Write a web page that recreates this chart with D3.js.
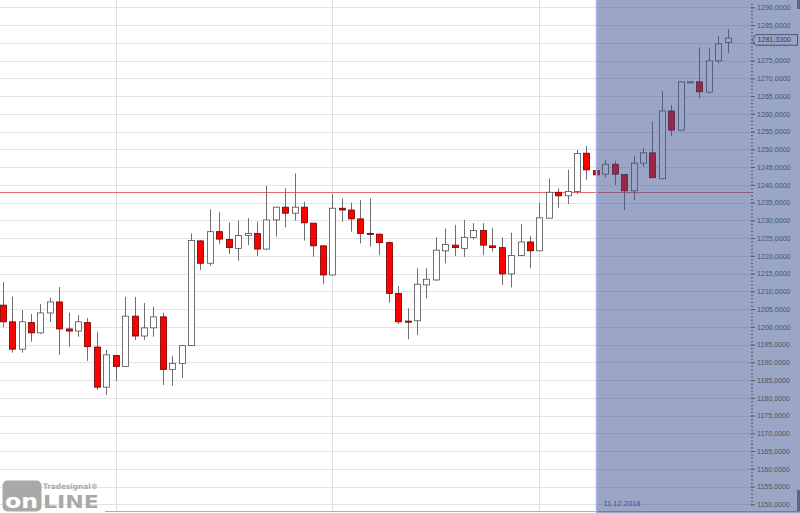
<!DOCTYPE html>
<html>
<head>
<meta charset="utf-8">
<script src="https://cdn.jsdelivr.net/npm/d3@7"></script>
<style>
  body { margin: 0; background: #fff; }
  svg { display: block; font-family: "Liberation Sans", Arial, sans-serif; }
</style>
</head>
<body>
<svg id="chart" width="800" height="513"></svg>
<script>
// daily OHLC, 13.09.2018 .. 21.12.2018
var opens  = [1206.1,1201.4,1193.7,1201.2,1198.3,1203.9,1207.0,1199.4,1198.8,1201.2,
              1194.3,1183.0,1191.9,1188.8,1203.0,1197.4,1199.7,1202.8,1188.0,1189.7,
              1194.7,1224.2,1217.9,1226.8,1224.6,1222.1,1225.7,1226.3,1221.9,1230.1,
              1233.7,1232.0,1233.7,1229.2,1222.8,1214.6,1233.4,1232.9,1230.4,1226.3,
              1226.1,1223.7,1209.4,1201.6,1201.7,1211.8,1213.2,1221.4,1223.0,1222.1,
              1225.2,1227.1,1222.8,1222.3,1214.9,1220.1,1223.9,1221.4,1230.6,1237.9,
              1236.9,1238.1,1248.9,1244.0,1243.0,1245.8,1242.9,1238.3,1246.1,1249.0,
              1241.7,1260.8,1255.4,1269.0,1269.0,1266.1,1274.9,1280.1];
var highs  = [1212.6,1208.5,1204.7,1203.6,1206.4,1208.2,1211.2,1204.0,1203.3,1202.5,
              1198.6,1193.5,1192.1,1208.4,1208.4,1206.7,1205.7,1204.0,1191.8,1194.9,
              1226.3,1224.4,1233.1,1232.3,1229.4,1229.9,1230.6,1229.6,1239.7,1233.8,
              1239.0,1243.2,1235.2,1229.3,1222.9,1237.4,1236.2,1235.0,1235.7,1236.2,
              1226.3,1224.0,1211.5,1205.2,1216.5,1216.5,1225.2,1227.7,1228.7,1230.1,
              1229.2,1229.2,1227.9,1225.2,1226.5,1229.0,1225.6,1235.0,1241.8,1239.0,
              1244.2,1249.8,1250.9,1244.0,1247.0,1246.8,1243.0,1248.1,1250.3,1257.8,
              1266.4,1262.5,1269.1,1269.0,1278.7,1278.7,1281.9,1283.8];
var lows   = [1199.9,1192.7,1192.7,1195.8,1198.0,1201.4,1192.1,1194.4,1197.2,1190.4,
              1182.2,1180.8,1184.7,1188.8,1196.3,1196.3,1197.2,1183.6,1183.4,1185.6,
              1194.6,1216.0,1217.2,1223.3,1220.5,1218.6,1223.0,1220.0,1221.6,1225.4,
              1228.0,1229.9,1224.3,1219.7,1212.0,1214.5,1229.6,1226.8,1223.5,1222.6,
              1220.2,1206.8,1200.8,1196.5,1197.7,1208.0,1213.0,1217.9,1219.9,1219.7,
              1224.6,1220.2,1221.2,1211.8,1211.1,1219.9,1216.5,1221.3,1230.5,1233.4,
              1234.6,1237.4,1241.4,1242.7,1242.1,1239.9,1232.9,1235.7,1245.1,1241.9,
              1241.6,1253.7,1255.3,1269.0,1264.4,1265.8,1274.2,1277.2];
var closes = [1201.4,1193.7,1201.4,1198.3,1203.9,1207.0,1199.4,1198.8,1201.4,1194.4,
              1183.0,1192.1,1188.8,1203.0,1197.4,1199.7,1202.8,1188.0,1189.7,1194.7,
              1224.3,1217.9,1226.8,1224.7,1222.3,1225.7,1226.3,1221.9,1230.1,1233.7,
              1232.0,1233.7,1229.3,1222.8,1214.6,1233.4,1232.9,1230.4,1226.3,1226.1,
              1223.7,1209.4,1201.4,1201.3,1212.0,1213.4,1221.6,1223.2,1222.3,1225.2,
              1227.1,1223.0,1222.3,1214.9,1220.1,1223.9,1221.4,1230.7,1237.9,1236.9,
              1238.1,1248.8,1244.2,1242.8,1245.8,1243.0,1238.3,1246.1,1249.0,1242.0,
              1260.8,1255.4,1269.0,1269.0,1266.2,1274.9,1279.7,1281.33];

var monthStarts = [12, 35, 57];     // 01.10., 01.11., 03.12.
var markIndex = 63;
var markLabel = "11.12.2018";
var refLevel = 1238.0;
var lastPrice = 1281.33;
var yTicks = d3.range(1150, 1291, 5);
var yMinor = d3.range(1150, 1292, 1);

var svg = d3.select("#chart");
var W = 800, H = 513, axisX = 751;

var x = d3.scaleLinear().domain([0, opens.length - 1]).range([2.7, 727.7]);
var y = d3.scaleLinear().domain([1150, 1290]).range([504.3, 7.3]);

var fmt = d3.formatLocale({decimal: ",", thousands: ".", grouping: [3], currency: ["", ""]}).format(".4f");

var candles = opens.map(function(o, i) {
  return {i: i, o: o, h: highs[i], l: lows[i], c: closes[i]};
});

// grid
svg.append("g").selectAll("line")
  .data(yTicks)
  .join("line")
    .attr("x1", 0).attr("x2", axisX)
    .attr("y1", function(d) { return Math.round(y(d)) + 0.5; })
    .attr("y2", function(d) { return Math.round(y(d)) + 0.5; })
    .attr("stroke", "#e3e3e3");

svg.append("g").selectAll("line")
  .data(monthStarts)
  .join("line")
    .attr("x1", function(d) { return Math.round(x(d)) + 0.5; })
    .attr("x2", function(d) { return Math.round(x(d)) + 0.5; })
    .attr("y1", 0).attr("y2", 511)
    .attr("stroke", "#e0e0e0");

// reference level
svg.append("line")
  .attr("x1", 0).attr("x2", axisX)
  .attr("y1", Math.round(y(refLevel)) + 0.5).attr("y2", Math.round(y(refLevel)) + 0.5)
  .attr("stroke", "#e86a6a");

// bottom border
svg.append("line")
  .attr("x1", 105).attr("x2", W)
  .attr("y1", 511.5).attr("y2", 511.5)
  .attr("stroke", "#c4a4a4");

// candles
var cg = svg.append("g");
cg.selectAll("line.wick")
  .data(candles)
  .join("line")
    .attr("class", "wick")
    .attr("x1", function(d) { return Math.round(x(d.i)) + 0.5; })
    .attr("x2", function(d) { return Math.round(x(d.i)) + 0.5; })
    .attr("y1", function(d) { return y(d.h); })
    .attr("y2", function(d) { return y(d.l); })
    .attr("stroke", "#6e6e6e");

cg.selectAll("rect.body")
  .data(candles)
  .join("rect")
    .attr("class", "body")
    .attr("x", function(d) { return Math.round(x(d.i)) - 2.5; })
    .attr("width", 6)
    .attr("y", function(d) { return y(Math.max(d.o, d.c)); })
    .attr("height", function(d) { return Math.max(1, y(Math.min(d.o, d.c)) - y(Math.max(d.o, d.c))); })
    .attr("fill", function(d) { return d.c >= d.o ? "#ffffff" : "#ff0000"; })
    .attr("stroke", function(d) { return d.c >= d.o ? "#505050" : "#6a0000"; })
    .attr("stroke-width", 0.8);

// highlighted period
var mx = Math.round(x(markIndex)) + 0.5;
svg.append("rect")
  .attr("x", mx).attr("y", 0)
  .attr("width", W - mx).attr("height", H)
  .attr("fill", "rgb(56,78,142)")
  .attr("fill-opacity", 0.5);
svg.append("line")
  .attr("x1", mx).attr("x2", mx)
  .attr("y1", 0).attr("y2", H)
  .attr("stroke", "#aaaef2")
  .attr("stroke-width", 1.5);
svg.append("text")
  .attr("x", mx + 7).attr("y", 506)
  .attr("font-size", "7.5px")
  .attr("fill", "#3d4cae")
  .text(markLabel);

// right axis
var minor = svg.append("g")
  .attr("transform", "translate(" + axisX + ",0)")
  .call(d3.axisRight(y).tickValues(yMinor).tickSize(2).tickFormat(""));
minor.select(".domain").remove();
minor.selectAll(".tick line").attr("stroke", "#505868");

var axis = svg.append("g")
  .attr("transform", "translate(" + axisX + ",0)")
  .call(d3.axisRight(y).tickValues(yTicks).tickSize(4).tickPadding(2).tickFormat(fmt));
axis.select(".domain").remove();
axis.selectAll(".tick line").attr("stroke", "#505868");
axis.selectAll(".tick text")
  .attr("x", 6)
  .attr("fill", "#4c5468")
  .style("font-family", "'Liberation Sans', Arial, sans-serif")
  .style("font-size", "7.1px");

// last price marker
var ly = y(lastPrice) + 1.8;
svg.append("path")
  .attr("d", "M" + (axisX + 1.5) + "," + ly +
             "L" + (axisX + 4.5) + "," + (ly - 5.3) +
             "H797.5V" + (ly + 5.3) + "H" + (axisX + 4.5) + "Z")
  .attr("fill", "#9aa4c4")
  .attr("stroke", "#4a5060")
  .attr("stroke-width", 0.9);
svg.append("text")
  .attr("x", axisX + 6.5).attr("y", ly + 2.6)
  .attr("font-size", "7.1px")
  .attr("fill", "#3a4050")
  .text(fmt(lastPrice));

// scrollbar bits on the far right
svg.append("rect").attr("x", 797).attr("y", 0).attr("width", 3).attr("height", 9).attr("fill", "#5e667c");
svg.append("rect").attr("x", 797).attr("y", 490).attr("width", 3).attr("height", 21).attr("fill", "#5e667c");

// logo
var logo = svg.append("g");
logo.append("rect")
  .attr("x", 2.5).attr("y", 480.5).attr("width", 39).attr("height", 31).attr("rx", 5)
  .attr("fill", "#a9a9a9");
logo.append("text")
  .attr("x", 5).attr("y", 507.5)
  .attr("textLength", 33).attr("lengthAdjust", "spacingAndGlyphs")
  .attr("font-family", "'DejaVu Sans', sans-serif").attr("font-weight", "bold")
  .attr("font-size", "19px").attr("fill", "#ffffff")
  .text("on");
logo.append("text")
  .attr("x", 43).attr("y", 507.5)
  .attr("textLength", 56).attr("lengthAdjust", "spacingAndGlyphs")
  .attr("font-family", "'DejaVu Sans', sans-serif").attr("font-weight", "bold")
  .attr("font-size", "17px").attr("fill", "#a9a9a9")
  .text("LINE");
logo.append("text")
  .attr("x", 43).attr("y", 489.3)
  .attr("textLength", 55).attr("lengthAdjust", "spacingAndGlyphs")
  .attr("font-family", "'DejaVu Sans', sans-serif").attr("font-weight", "bold")
  .attr("font-size", "7.5px").attr("fill", "#a9a9a9")
  .text("Tradesignal®");
</script>
</body>
</html>
